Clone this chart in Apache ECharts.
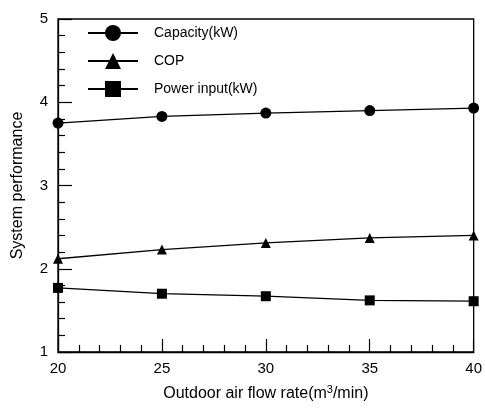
<!DOCTYPE html>
<html>
<head>
<meta charset="utf-8">
<script src="https://cdn.jsdelivr.net/npm/echarts@6/dist/echarts.min.js"></script>
<style>html,body{margin:0;padding:0;background:#fff}#c{width:485px;height:409px}</style>
</head>
<body>
<div id="c"></div>
<script>
var flowRates = [20, 25, 30, 35, 40];
var capacity = [3.75, 3.83, 3.87, 3.90, 3.93];
var cop = [2.12, 2.23, 2.31, 2.37, 2.40];
var powerInput = [1.77, 1.70, 1.67, 1.62, 1.61];
var seriesNames = ['Capacity(kW)', 'COP', 'Power input(kW)'];

function pairs(xs, ys) { return xs.map(function (x, i) { return [x, ys[i]]; }); }

var font = '"Liberation Sans", Arial, sans-serif';
var chart = echarts.init(document.getElementById('c'), null, {renderer: 'canvas'});
var lineStyle = {color: '#000', width: 1.3};
var itemStyle = {color: '#000'};
chart.setOption({
  animation: false,
  backgroundColor: '#fff',
  grid: {left: 58, right: 5, top: 19, bottom: 57, show: true, borderColor: '#000', borderWidth: 1.3},
  legend: {
    left: 87, top: 25, orient: 'vertical', padding: 0,
    itemWidth: 50, itemHeight: 20, itemGap: 12,
    data: seriesNames,
    textStyle: {fontFamily: font, fontSize: 14, color: '#000', padding: [0, 0, 0, 11]}
  },
  xAxis: {
    type: 'value', min: 20, max: 40, interval: 5,
    name: 'Outdoor air flow rate(m{sup|3}/min)', nameLocation: 'middle', nameGap: 32,
    nameTextStyle: {fontFamily: font, fontSize: 16, color: '#000',
      rich: {sup: {fontFamily: font, fontSize: 11, color: '#000', padding: [0, 0, 9, 0]}}},
    axisLine: {show: true, lineStyle: {color: '#000', width: 1.3}},
    axisTick: {show: true, inside: true, length: 13, lineStyle: {color: '#000', width: 1.2}},
    minorTick: {show: true, splitNumber: 5, length: 7, lineStyle: {color: '#000', width: 1.2}},
    axisLabel: {fontFamily: font, fontSize: 15, color: '#000', margin: 9},
    splitLine: {show: false}
  },
  yAxis: {
    type: 'value', min: 1, max: 5, interval: 1,
    name: 'System performance', nameLocation: 'middle', nameGap: 32,
    nameTextStyle: {fontFamily: font, fontSize: 16, color: '#000'},
    axisLine: {show: true, lineStyle: {color: '#000', width: 1.3}},
    axisTick: {show: true, inside: true, length: 14, lineStyle: {color: '#000', width: 1.2}},
    minorTick: {show: true, splitNumber: 5, length: 7, lineStyle: {color: '#000', width: 1.2}},
    axisLabel: {fontFamily: font, fontSize: 15, color: '#000', margin: 10},
    splitLine: {show: false}
  },
  series: [
    {name: seriesNames[0], type: 'line', data: pairs(flowRates, capacity), symbol: 'circle', symbolSize: 11,
     lineStyle: lineStyle, itemStyle: itemStyle},
    {name: seriesNames[1], type: 'line', data: pairs(flowRates, cop), symbol: 'triangle', symbolSize: 10,
     lineStyle: lineStyle, itemStyle: itemStyle},
    {name: seriesNames[2], type: 'line', data: pairs(flowRates, powerInput), symbol: 'rect', symbolSize: 10,
     lineStyle: lineStyle, itemStyle: itemStyle}
  ]
});
</script>
</body>
</html>
